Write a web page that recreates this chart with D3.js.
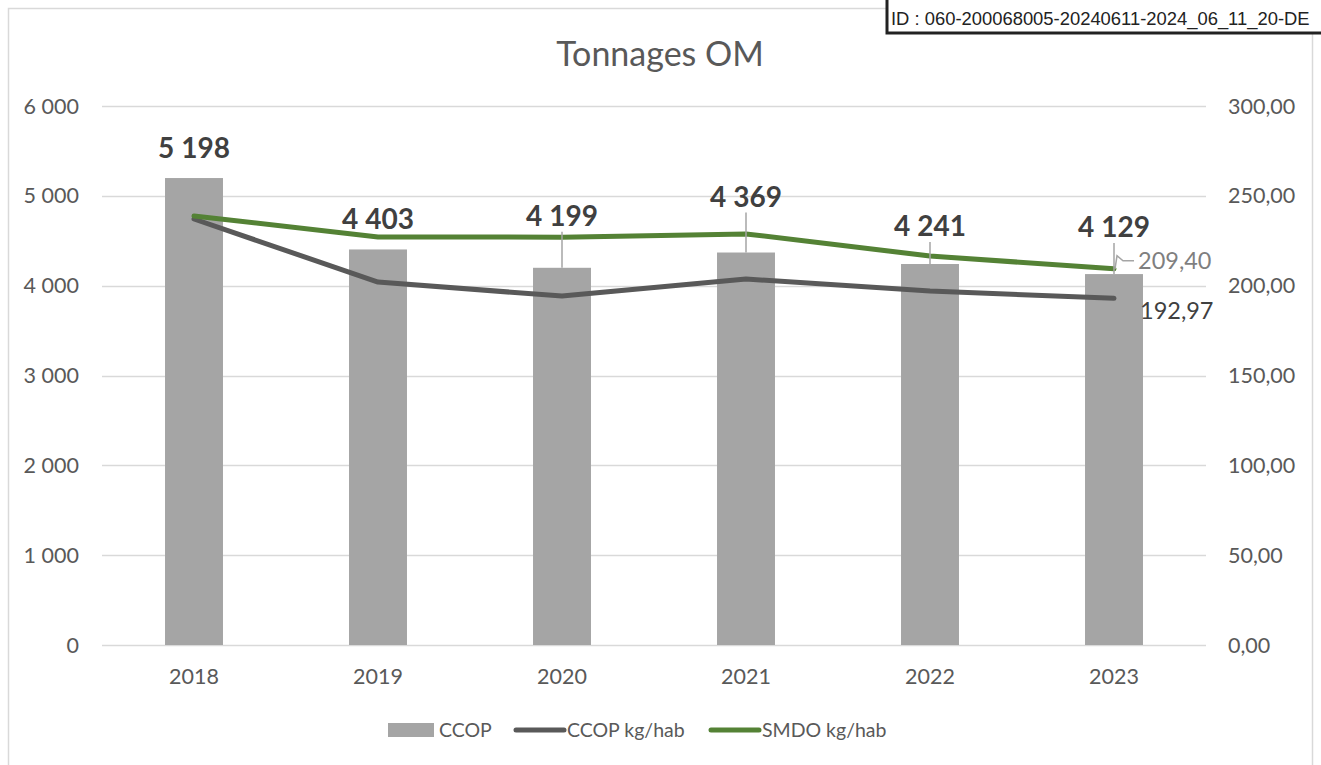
<!DOCTYPE html>
<html>
<head>
<meta charset="utf-8">
<script src="https://cdn.jsdelivr.net/npm/d3@7"></script>
<style>
  body { margin: 0; background: #fff; }
  svg text { font-family: Lato, "Open Sans", sans-serif; }
</style>
</head>
<body>
<svg id="chart" width="1321" height="765"></svg>
<script>
// data
var years = ["2018", "2019", "2020", "2021", "2022", "2023"];
var ccopTonnes = [5198, 4403, 4199, 4369, 4241, 4129];
var ccopKgHab = [237.1, 202.0, 194.2, 203.7, 197.0, 192.97];
var smdoKgHab = [238.8, 227.1, 227.0, 228.8, 216.5, 209.40];
var leftTicks = [0, 1000, 2000, 3000, 4000, 5000, 6000];
var rightTicks = [0, 50, 100, 150, 200, 250, 300];
// how far above the bar top each bar label sits (excel placement)
var labelLift = [30, 30, 52, 56, 38, 47];

var svg = d3.select("#chart");
var m = { top: 106, left: 102, bottom: 120, right: 115 };

var x = d3.scaleBand().domain(years).range([m.left, 1206]).paddingInner(0).paddingOuter(0);
var yL = d3.scaleLinear().domain([0, 6000]).range([645, 106]);
var yR = d3.scaleLinear().domain([0, 300]).range([645, 106]);

var fmtInt = function(v) { return d3.format(",")(v).replace(/,/g, " "); };
var fmtDec = function(v) { return d3.format(".2f")(v).replace(".", ","); };

// chart frame
svg.append("rect").attr("x", 8.5).attr("y", 8.5).attr("width", 1304).attr("height", 800)
  .attr("fill", "none").attr("stroke", "#d9d9d9").attr("stroke-width", 1.5);

// grid
svg.append("g").selectAll("line").data(leftTicks).enter().append("line")
  .attr("x1", m.left).attr("x2", 1206)
  .attr("y1", function(d) { return Math.round(yL(d)) + 0.5; })
  .attr("y2", function(d) { return Math.round(yL(d)) + 0.5; })
  .attr("stroke", "#d9d9d9").attr("stroke-width", 1.5);

// title
svg.append("text").attr("x", 660).attr("y", 66).attr("text-anchor", "middle")
  .attr("font-size", 34).attr("fill", "#595959").text("Tonnages OM");

// axes labels
svg.append("g").selectAll("text").data(leftTicks).enter().append("text")
  .attr("x", 79).attr("y", function(d) { return yL(d) + 7.5; })
  .attr("text-anchor", "end").attr("font-size", 21.5).attr("fill", "#595959")
  .text(fmtInt);
svg.append("g").selectAll("text").data(rightTicks).enter().append("text")
  .attr("x", 1228).attr("y", function(d) { return yR(d) + 7.5; })
  .attr("text-anchor", "start").attr("font-size", 21.5).attr("fill", "#595959")
  .text(fmtDec);
svg.append("g").selectAll("text").data(years).enter().append("text")
  .attr("x", function(d) { return x(d) + x.bandwidth() / 2; }).attr("y", 684)
  .attr("text-anchor", "middle").attr("font-size", 21.5).attr("fill", "#595959")
  .text(function(d) { return d; });

// bars
var bw = x.bandwidth() * 0.315;
svg.append("g").selectAll("rect").data(ccopTonnes).enter().append("rect")
  .attr("x", function(d, i) { return x(years[i]) + x.bandwidth() / 2 - bw / 2; })
  .attr("y", function(d) { return yL(d); })
  .attr("width", bw)
  .attr("height", function(d) { return yL(0) - yL(d); })
  .attr("fill", "#a5a5a5");

// lines
var line = function(arr) {
  return d3.line()
    .x(function(d, i) { return x(years[i]) + x.bandwidth() / 2; })
    .y(function(d) { return yR(d); })(arr);
};
svg.append("path").attr("d", line(ccopKgHab)).attr("fill", "none")
  .attr("stroke", "#595959").attr("stroke-width", 5)
  .attr("stroke-linecap", "round").attr("stroke-linejoin", "round");
svg.append("path").attr("d", line(smdoKgHab)).attr("fill", "none")
  .attr("stroke", "#548235").attr("stroke-width", 5)
  .attr("stroke-linecap", "round").attr("stroke-linejoin", "round");

// bar labels with leader lines
var lab = svg.append("g");
ccopTonnes.forEach(function(v, i) {
  var cx = x(years[i]) + x.bandwidth() / 2;
  var top = yL(v);
  var ly = top - labelLift[i];
  if (labelLift[i] > 35) {
    lab.append("line").attr("x1", cx).attr("x2", cx)
      .attr("y1", ly + 16).attr("y2", top)
      .attr("stroke", "#a5a5a5").attr("stroke-width", 1.5);
  }
  lab.append("text").attr("x", cx).attr("y", ly + 10)
    .attr("text-anchor", "middle").attr("font-size", 28).attr("font-weight", "bold")
    .attr("fill", "#404040").text(fmtInt(v));
});

// last point labels
var last = years.length - 1;
var lx = x(years[last]) + x.bandwidth() / 2;
var sy = yR(smdoKgHab[last]);
svg.append("polyline")
  .attr("points", [[lx + 1, sy], [lx + 3, sy - 13], [lx + 9, sy - 8], [lx + 20, sy - 8]].join(" "))
  .attr("fill", "none").attr("stroke", "#a5a5a5").attr("stroke-width", 1.5);
svg.append("text").attr("x", lx + 24).attr("y", sy)
  .attr("font-size", 23.5).attr("fill", "#7f7f7f").text(fmtDec(smdoKgHab[last]));
svg.append("text").attr("x", lx + 26).attr("y", yR(ccopKgHab[last]) + 21)
  .attr("font-size", 23.5).attr("fill", "#404040").text(fmtDec(ccopKgHab[last]));

// legend
var leg = svg.append("g");
leg.append("rect").attr("x", 388).attr("y", 723).attr("width", 46).attr("height", 14).attr("fill", "#a5a5a5");
leg.append("text").attr("x", 439).attr("y", 737).attr("font-size", 19.5).attr("fill", "#595959").text("CCOP");
leg.append("line").attr("x1", 516).attr("x2", 564).attr("y1", 730).attr("y2", 730)
  .attr("stroke", "#595959").attr("stroke-width", 5).attr("stroke-linecap", "round");
leg.append("text").attr("x", 567).attr("y", 737).attr("font-size", 19.5).attr("fill", "#595959").text("CCOP kg/hab");
leg.append("line").attr("x1", 711).attr("x2", 759).attr("y1", 730).attr("y2", 730)
  .attr("stroke", "#548235").attr("stroke-width", 5).attr("stroke-linecap", "round");
leg.append("text").attr("x", 762).attr("y", 737).attr("font-size", 19.5).attr("fill", "#595959").text("SMDO kg/hab");

// id stamp
svg.append("rect").attr("x", 887).attr("y", -5).attr("width", 450).attr("height", 38)
  .attr("fill", "#fff").attr("stroke", "#222").attr("stroke-width", 3);
svg.append("text").attr("x", 891).attr("y", 25)
  .style("font-family", "'Liberation Sans', Arial, sans-serif")
  .attr("font-size", 18.4).attr("fill", "#222")
  .text("ID : 060-200068005-20240611-2024_06_11_20-DE");
</script>
</body>
</html>
